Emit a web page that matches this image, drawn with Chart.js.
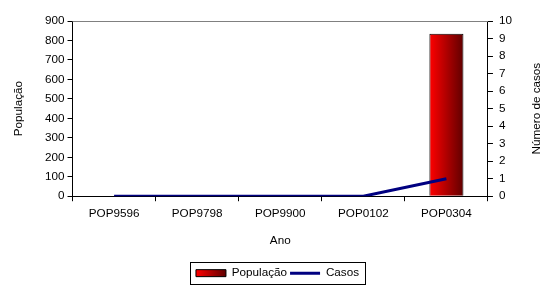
<!DOCTYPE html>
<html>
<head>
<meta charset="utf-8">
<script src="https://cdn.jsdelivr.net/npm/chart.js@4"></script>
<style>
  html, body { margin: 0; padding: 0; background: #fff; }
  #wrap { width: 543px; height: 286px; position: relative; }
</style>
</head>
<body>
<div id="wrap"><canvas id="plot_1"></canvas></div>
<script>
const anos = ['POP9596', 'POP9798', 'POP9900', 'POP0102', 'POP0304'];
const populacao = [0, 0, 0, 0, 835];
const casos = [0, 0, 0, 0, 1];
const ticks_pop = [0, 900, 100];   // min, max, passo
const ticks_casos = [0, 10, 1];

const fonte = "'Liberation Sans', Arial, sans-serif";
const tam = 11.7;
Chart.defaults.font.family = fonte;
Chart.defaults.font.size = tam;
Chart.defaults.color = '#000';

const plot_1 = document.getElementById('plot_1');

// gradiente horizontal (vermelho -> vinho)
function gradiente(c, x0, x1) {
    const g = c.createLinearGradient(x0, 0, x1, 0);
    g.addColorStop(0, '#ff0000');
    g.addColorStop(1, '#600000');
    return g;
}

function grad_barra(ctx) {
    const chart = ctx.chart;
    const sx = chart.scales.x;
    if (!sx || ctx.dataIndex === undefined) return '#e00000';
    const cx = sx.getPixelForValue(ctx.dataIndex);
    const w = (sx.width / anos.length) * 0.41;
    return gradiente(chart.ctx, cx - w / 2, cx + w / 2);
}

// borda de cima, titulo da direita e caixa da legenda
const molduras = {
    id: 'molduras',
    beforeDraw(chart) {
        const hb = chart.legend.legendHitBoxes;
        const it = chart.legend.legendItems;
        if (hb && hb.length && it && it.length) {
            it[0].fillStyle = gradiente(chart.ctx, hb[0].left, hb[0].left + 30);
        }
    },
    afterDraw(chart) {
        const c = chart.ctx;
        const a = chart.chartArea;
        c.save();
        c.strokeStyle = '#808080';
        c.lineWidth = 1;
        c.beginPath();
        c.moveTo(a.left, a.top + 0.5);
        c.lineTo(a.right, a.top + 0.5);
        c.stroke();

        const s = chart.scales.y1;
        c.fillStyle = '#000';
        c.font = tam + 'px ' + fonte;
        c.textAlign = 'center';
        c.textBaseline = 'middle';
        c.translate(s.right - 6, (a.top + a.bottom) / 2);
        c.rotate(-Math.PI / 2);
        c.fillText('Número de casos', 0, 0);
        c.restore();

        const hb = chart.legend.legendHitBoxes;
        if (hb && hb.length) {
            const x0 = hb[0].left - 6;
            const x1 = hb[hb.length - 1].left + hb[hb.length - 1].width + 6;
            const y0 = hb[0].top - 5;
            const y1 = hb[0].top + hb[0].height + 5;
            c.save();
            c.strokeStyle = '#000';
            c.lineWidth = 1;
            c.strokeRect(Math.round(x0) + 0.5, Math.round(y0) + 0.5, Math.round(x1 - x0), Math.round(y1 - y0));
            c.restore();
        }
    }
};

const dados = {
    type: 'bar',
    data: {
        labels: anos,
        datasets: [
            {
                type: 'line',
                label: 'Casos',
                data: casos,
                yAxisID: 'y1',
                borderColor: '#000080',
                borderWidth: 3,
                pointRadius: 0,
                tension: 0,
                fill: false,
                order: 0
            },
            {
                label: 'População',
                data: populacao,
                yAxisID: 'y',
                backgroundColor: grad_barra,
                borderColor: '#000',
                borderWidth: 1,
                categoryPercentage: 1,
                barPercentage: 0.41,
                order: 1
            }
        ]
    },
    options: {
        responsive: true,
        maintainAspectRatio: false,
        animation: false,
        layout: { padding: { left: 12, right: 0, top: 21, bottom: -3 } },
        plugins: {
            tooltip: { enabled: false },
            legend: {
                position: 'bottom',
                labels: {
                    usePointStyle: true,
                    pointStyleWidth: 30,
                    boxHeight: 7,
                    padding: 3,
                    color: '#000',
                    font: { size: tam },
                    generateLabels(chart) {
                        return [
                            { text: 'População', pointStyle: 'rect', fillStyle: '#d00000', strokeStyle: '#000', lineWidth: 1, datasetIndex: 1 },
                            { text: 'Casos', pointStyle: 'line', fillStyle: '#000080', strokeStyle: '#000080', lineWidth: 3, datasetIndex: 0 }
                        ];
                    }
                }
            }
        },
        scales: {
            x: {
                offset: true,
                grid: { display: true, offset: true, drawOnChartArea: false, drawTicks: true, tickLength: 5, color: '#000' },
                border: { display: true, color: '#000' },
                ticks: { color: '#000', padding: 6, maxRotation: 0 },
                title: { display: true, text: 'Ano', font: { size: tam }, padding: { top: 6, bottom: 17 } }
            },
            y: {
                position: 'left',
                min: ticks_pop[0], max: ticks_pop[1],
                grid: { display: true, drawOnChartArea: false, drawTicks: true, tickLength: 5, color: '#000' },
                border: { display: true, color: '#000' },
                ticks: { stepSize: ticks_pop[2], color: '#000', padding: 3, autoSkip: false },
                title: { display: true, text: 'População', font: { size: tam }, padding: { top: 0, bottom: 16 } }
            },
            y1: {
                position: 'right',
                min: ticks_casos[0], max: ticks_casos[1],
                grid: { display: true, drawOnChartArea: false, drawTicks: true, tickLength: 5, color: '#000' },
                border: { display: true, color: '#000' },
                ticks: { stepSize: ticks_casos[2], color: '#000', padding: 6, autoSkip: false },
                title: { display: true, text: 'Número de casos', color: 'rgba(0,0,0,0)', font: { size: tam }, padding: { top: 11, bottom: 0 } }
            }
        }
    },
    plugins: [molduras]
};

const grafico = new Chart(plot_1, dados);
grafico.update();
</script>
</body>
</html>
